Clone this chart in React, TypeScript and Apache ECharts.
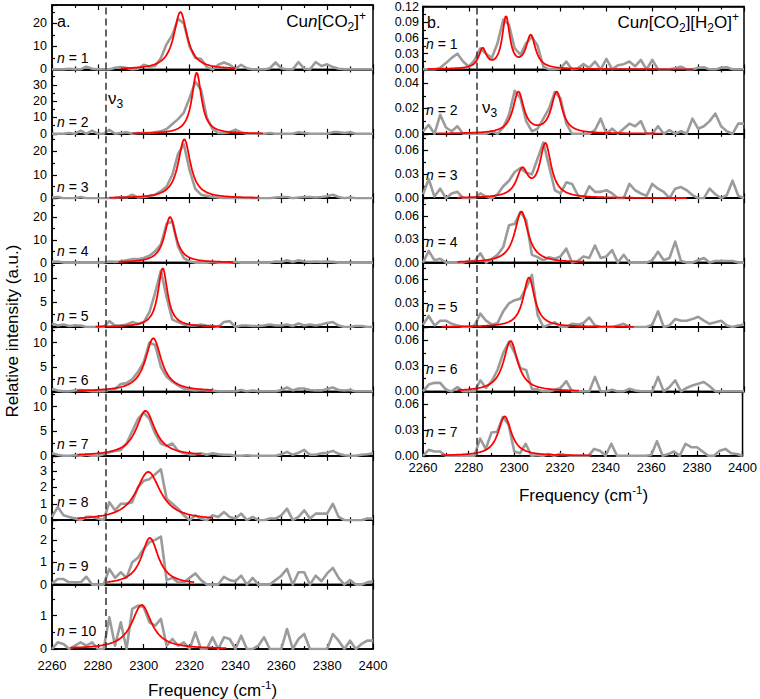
import React, { useEffect, useRef } from "react";
import * as echarts from "echarts";

// Frequency grid of the measured spectra (cm^-1)
const FREQ = [
  2260, 2262.5, 2265, 2267.5, 2270, 2272.5, 2275, 2277.5, 2280, 2282.5,
  2285, 2287.5, 2290, 2292.5, 2295, 2297.5, 2300, 2302.5, 2305, 2307.5,
  2310, 2312.5, 2315, 2317.5, 2320, 2322.5, 2325, 2327.5, 2330, 2332.5,
  2335, 2337.5, 2340, 2342.5, 2345, 2347.5, 2350, 2352.5, 2355, 2357.5,
  2360, 2362.5, 2365, 2367.5, 2370, 2372.5, 2375, 2377.5, 2380, 2382.5,
  2385, 2387.5, 2390, 2392.5, 2395, 2397.5, 2400,
];

// Panel a: Cu_n[CO2]+ measured spectra
const A1 = [0,0,0,0.3,0,0,1.2,0.3,0,0, 0,0.7,1.0,0.6,0,0.3,2.0,1.2,1.5,5, 11,15,22,20,10,5,4.5,1,0,2.0, 3.0,2.0,0.3,2.0,0.5,0,0,0,0.5,3.0, 0.5,0,0,3.2,0.3,0,3.2,1.5,2.2,1.0, 0.3,0,0,0,0,0,0];
const A2 = [0,0,0,0.5,0,2,0,2,0,0, 2.5,0,0.5,1,0,0.5,0.5,0.5,1,1.5, 3,6,9,13,22,32,27,10,3,0.5, 0.5,1,2.5,1,0,0,0,0,0.5,0, 0,0,0,1,0.5,0,0,0,0,1, 1,0.5,1,0,0,0,0];
const A3 = [0.3,0.5,0,0,0,0.5,0,0,0,0, 0,0,0.5,0.3,1.5,0.3,0.5,1,1.5,3, 5,10,19,23,12,4,1.5,1,0.5,0.3, 0,0,0,0,0,0,0,0,0,0.3, 0.5,0.5,0,0.3,0.5,0.5,0.3,0.5,0.8,1.5, 0.5,0,0.3,0,0,0,0];
const A4 = [0.3,0.5,0,0,0,0,0,0,0,0, 0.5,0.3,0.5,1,1.5,1.5,2,3,5,8, 17,18,7,2,0.5,0,0,0,0.3,0, 0,0,0.3,0,0,0,0,0,0,0.5, 0.3,1,0.3,1,0.5,0.3,0.5,0.3,0.5,0.3, 0,0,0,0,0,0,0];
const A5 = [0.7,0.3,0.5,0.2,0.3,0.3,0,0,0,0, 1.2,0.3,0.3,0.5,1.0,0.6,1.0,3,7,11.5, 6,1.5,1.0,0.5,0.3,0.3,0.5,0.3,0.2,0, 1.0,1.2,0,0.3,0.3,0.2,0.2,0.3,0.5,0.3, 0.3,0.5,0.2,0.7,0.3,0.5,0.3,0.5,0.8,1.0, 0.3,0,0,0.2,0.2,0,0];
const A6 = [0.5,0.2,0,0,0.2,0.3,0.2,0,0,0, 0.4,0.5,1.5,1.7,2.5,4,6,10,9.5,5, 3,2,1.2,0.6,0.3,0.2,0.3,0.2,0.2,0, 0,0,0,0.3,0,0.2,0,0,0,0, 0.3,0.8,0.2,0.6,0.6,0.3,0.2,0.2,0.5,0.8, 0.3,0.2,0.3,0,0,0,0];
const A7 = [0.5,0.2,0,0,0.1,0,0.2,0,0,0.3, 0.7,1.0,1.2,2.5,5,7.5,8.8,7.5,4.5,2.5, 2,2.5,1.0,0.5,0.3,0.3,0.5,0.2,0.5,0.3, 0.2,0.2,0,0,0.1,0,0,0,0,0, 0.3,0.8,0.2,0.6,1.2,0.2,0.2,0.5,0.6,1.0, 0.4,0.1,0,0,0.2,0.3,0.5];
const A8 = [0.2,0.8,0.3,0.2,0.1,0,0.2,0.2,0.1,0, 1.1,0.6,1.0,1.0,1.1,2.0,2.4,2.5,2.8,3.1, 1.3,1.0,0.7,0.3,0,0.3,0.1,0,0.3,0.2, 0.5,0.2,0.1,0.4,0,0.2,0,0,0.1,0.1, 0.3,0.7,0,0.2,0.6,0.1,0.4,0.4,0.4,1.0, 0.2,0,0,0,0,0.1,0.1];
const A9 = [0.05,0.25,0.25,0.1,0.1,0.1,0.35,0,0,0, 0.7,0.3,0.55,0.3,1.0,1.2,1.6,1.9,2.0,2.15, 0.2,0.3,0.1,0.1,0.3,0.5,0.2,0,0,0, 0.35,0.2,0.15,0.4,0,0.3,0,0,0,0.2, 0.4,0.7,0,0.55,0.55,0,0.4,0.15,0.5,0.75, 0.3,0,0.2,0,0,0.1,0.15];
const A10 = [0,0.2,0.15,0,0.1,0.2,0.1,0.2,0,0, 0.95,0.1,0.8,0,1.2,1.3,1.25,0.8,0.7,0.9, 0.1,0.3,0.1,0.2,0,0.5,0,0,0.35,0, 0.35,0.3,0,0.4,0,0,0.1,0.35,0,0, 0,0.6,0,0.3,0.45,0,0,0,0,0.45, 0.25,0,0.25,0,0.15,0.25,0.25];

// Panel b: Cu_n[CO2][H2O]+ measured spectra
const B1 = [0,0,0,0.003,0.012,0.022,0.03,0.015,0.005,0.018, 0.04,0.03,0.022,0.05,0.095,0.085,0.04,0.028,0.05,0.062, 0.045,0.005,0,0,0.002,0.015,0,0.002,0.01,0.003, 0.015,0,0.02,0,0.008,0.01,0.015,0.006,0.018,0, 0.018,0,0,0,0.002,0.005,0,0,0.003,0.004, 0,0,0.003,0.004,0,0,0];
const B2 = [0.002,0.007,0,0.015,0.005,0.002,0.006,0,0,0, 0,0,0.002,0,0.005,0.015,0.034,0.028,0.01,0.002, 0.004,0.012,0.02,0.033,0.028,0.008,0,0,0,0, 0.003,0.012,0,0.004,0,0.004,0.008,0.006,0.01,0, 0,0.006,0,0.003,0,0.002,0,0.012,0.004,0.006, 0.01,0.016,0.006,0.002,0,0.008,0.008];
const B3 = [0.005,0.024,0.002,0.012,0,0.006,0.008,0,0,0, 0.006,0.002,0,0.005,0.015,0.022,0.033,0.038,0.032,0.03, 0.05,0.07,0.04,0.01,0.006,0.02,0.018,0.004,0,0.015, 0.008,0.008,0.01,0.006,0,0,0.018,0.01,0.006,0.003, 0.018,0.012,0.008,0,0.012,0.014,0.01,0.004,0,0, 0.012,0.005,0,0.004,0.022,0.003,0];
const B4 = [0,0.015,0.003,0.005,0,0,0,0,0.002,0.002, 0.012,0,0.005,0.01,0.02,0.048,0.05,0.065,0.055,0.01, 0.007,0.003,0.007,0.005,0.008,0.018,0,0.002,0.008,0.006, 0.022,0.006,0.008,0.016,0,0.01,0,0,0,0, 0.003,0.014,0.003,0.006,0.027,0.002,0,0,0.003,0.006, 0,0.002,0.002,0.002,0.002,0,0];
const B5 = [0.003,0.014,0.002,0.008,0.008,0.004,0.002,0,0,0.002, 0.017,0.008,0.003,0.005,0.02,0.03,0.034,0.036,0.05,0.066, 0.015,0,0.003,0.006,0,0,0.004,0.003,0.005,0.012, 0.002,0,0,0,0.002,0.004,0,0,0,0, 0.003,0.02,0,0.002,0.01,0.008,0.008,0.01,0.013,0.008, 0.004,0.006,0.008,0.002,0,0.002,0.003];
const B6 = [0,0.008,0.01,0.01,0.002,0,0.005,0,0,0, 0.013,0.004,0.012,0.025,0.045,0.058,0.045,0.027,0.025,0.003, 0.002,0,0,0.002,0.004,0.012,0,0,0,0, 0.017,0,0,0.002,0,0,0.003,0.001,0,0, 0,0.017,0,0.005,0.013,0,0.004,0.007,0.009,0.011, 0.006,0,0,0,0,0,0];
const B7 = [0,0.007,0.005,0.005,0,0,0,0,0,0, 0.02,0.008,0.027,0.028,0.045,0.036,0.005,0.003,0.014,0, 0.001,0,0.002,0,0.002,0.001,0,0,0,0, 0.008,0.006,0,0.014,0,0,0,0,0,0, 0.001,0.017,0,0.002,0.005,0,0.014,0.01,0.01,0.005, 0,0,0.006,0.008,0.003,0.002,0];

// Lorentzian fit parameters: [centre (cm^-1), FWHM (cm^-1), height]
const FIT_A = [
  [[2316, 7, 25]],
  [[2323.1, 5, 37.6]],
  [[2317.7, 6.5, 25.2]],
  [[2311.5, 6, 20]],
  [[2308.3, 5, 12]],
  [[2304.2, 8.5, 10.9]],
  [[2300.8, 10, 9.15]],
  [[2302, 13, 2.94]],
  [[2302.7, 9, 2.09]],
  [[2299.1, 10.5, 1.32]],
];
const FIT_B = [
  [[2286, 4, 0.0371], [2296.2, 4, 0.0979], [2307, 5, 0.063]],
  [[2301.6, 5.7, 0.0325], [2318.3, 5.7, 0.0325]],
  [[2303.3, 6, 0.0336], [2313.4, 6, 0.067]],
  [[2302.9, 7, 0.066]],
  [[2306.2, 6, 0.063]],
  [[2298.2, 7.5, 0.059]],
  [[2295.8, 7, 0.0458]],
];
// frequency span over which each fit is drawn
const FIT_RANGE_A = [[2290, 2340], [2295, 2352], [2285, 2350], [2289, 2339], [2279, 2334], [2271, 2330], [2271, 2325], [2271, 2330], [2284, 2322], [2268, 2336]];
const FIT_RANGE_B = [[2262, 2378], [2266, 2364], [2275, 2375], [2275, 2330], [2268, 2352], [2275, 2328], [2268, 2334]];

// y-axis scales
const YMAX_A = [28, 39.5, 27.5, 28.2, 13.1, 13.2, 13.1, 3.92, 2.88, 1.93];
const YINT_A = [10, 10, 10, 10, 5, 5, 5, 1, 1, 1];
const YMAX_B = [0.12, 0.0508, 0.081, 0.083, 0.0817, 0.0753, 0.0748];
const YINT_B = [0.03, 0.02, 0.03, 0.03, 0.03, 0.03, 0.03];

const X_TICKS = [2260, 2280, 2300, 2320, 2340, 2360, 2380, 2400];
const NU3 = 2283.5;

const GRAY_A = [A1, A2, A3, A4, A5, A6, A7, A8, A9, A10];
const GRAY_B = [B1, B2, B3, B4, B5, B6, B7];

const FONT = '"Liberation Sans", Arial, Helvetica, sans-serif';

function fitCurve(peaks: number[][], range: number[]) {
  const pts: number[][] = [];
  for (let x = range[0]; x <= range[1] + 1e-9; x += 0.5) {
    let y = 0;
    for (const [c, w, a] of peaks) {
      const t = (x - c) / (w / 2);
      y += a / (1 + t * t);
    }
    pts.push([x, y]);
  }
  return pts;
}

export default function App() {
  const ref = useRef<HTMLDivElement>(null);
  useEffect(() => {
    if (!ref.current) return;
    const chart = echarts.init(ref.current, undefined, { renderer: "svg" });
    const PLOT_W = 321;
    const TOP0 = 5;
    const PH = 64.4;
    const grids: any[] = [];
    const xAxes: any[] = [];
    const yAxes: any[] = [];
    const series: any[] = [];
    const graphic: any[] = [];

    const tickStyle = { color: "#000", width: 1.2 };
    const cols = [
      { left: 52, gray: GRAY_A, fits: FIT_A, ranges: FIT_RANGE_A, ymax: YMAX_A, yint: YINT_A, dec: 0, lblMargin: 10, nOff: [53, 53, 53, 53, 53, 53, 53, 46, 46, 46], nX: 57 },
      { left: 423, gray: GRAY_B, fits: FIT_B, ranges: FIT_RANGE_B, ymax: YMAX_B, yint: YINT_B, dec: 2, lblMargin: 5, nOff: [38.5, 40.5, 41, 43.5, 44, 42.3, 40.3], nX: 426 },
    ];
    let k = 0;
    cols.forEach((col, ci) => {
      const n = col.gray.length;
      for (let r = 0; r < n; r++) {
        const top = TOP0 + r * PH;
        const isLast = r === n - 1;
        grids.push({ left: col.left, top, width: PLOT_W, height: PH, show: true, borderColor: "#000", borderWidth: 1.5, backgroundColor: "transparent" });
        const baseX = {
          type: "value", gridIndex: k, min: X_TICKS[0], max: X_TICKS[X_TICKS.length - 1], interval: 20,
          axisLine: { show: true, lineStyle: { color: "#000", width: 1.5 } },
          axisTick: { show: true, inside: true, length: 5, lineStyle: tickStyle },
          minorTick: { show: true, splitNumber: 2, length: 3, lineStyle: tickStyle },
          splitLine: { show: false },
        };
        xAxes.push({
          ...baseX, position: "bottom",
          axisLabel: { show: isLast, color: "#000", fontSize: 13, fontFamily: FONT, margin: col.lblMargin, formatter: (v: number) => String(v) },
        });
        xAxes.push({ ...baseX, position: "top", axisLabel: { show: false } });
        const interval = col.yint[r];
        const dec = col.dec;
        yAxes.push({
          type: "value", gridIndex: k, min: 0, max: col.ymax[r], interval,
          axisLine: { show: true, lineStyle: { color: "#000", width: 1.5 } },
          axisTick: { show: true, inside: true, length: 5, lineStyle: tickStyle },
          minorTick: { show: true, splitNumber: 2, length: 3, lineStyle: tickStyle },
          splitLine: { show: false },
          axisLabel: {
            color: "#000", fontSize: 12.5, lineHeight: 12, fontFamily: FONT, margin: dec ? 4 : 5,
            formatter: (v: number) => {
              const q = v / interval;
              if (Math.abs(q - Math.round(q)) > 1e-6) return "";
              return v.toFixed(dec);
            },
          },
        });
        series.push({
          type: "line", xAxisIndex: 2 * k, yAxisIndex: k, showSymbol: false, silent: true,
          data: FREQ.map((f, i) => [f, col.gray[r][i]]),
          lineStyle: { color: "#9b9b9b", width: 2.6, join: "round" },
          z: 2,
          markLine: {
            silent: true, symbol: "none", label: { show: false },
            lineStyle: { type: [7, 4], color: "#333", width: 1.5 },
            data: [{ xAxis: NU3 }],
          },
        });
        series.push({
          type: "line", xAxisIndex: 2 * k, yAxisIndex: k, showSymbol: false, silent: true,
          data: fitCurve(col.fits[r], col.ranges[r]),
          lineStyle: { color: "#ff0000", width: 1.8 },
          z: 3,
        });
        graphic.push({
          type: "text", x: col.nX, y: top + col.nOff[r],
          style: {
            text: `{it|n} = ${r + 1}`, fontSize: 14, fontFamily: FONT, fill: "#000",
            align: "left", verticalAlign: "middle",
            rich: { it: { fontStyle: "italic", fontSize: 14, fontFamily: FONT, fill: "#000" } },
          },
        });
        k++;
      }
      graphic.push({
        type: "text", x: col.left + PLOT_W / 2, y: ci === 0 ? 690 : 495,
        style: {
          text: "Frequency (cm{sup|-1})", fontSize: 17, fontFamily: FONT, fill: "#000",
          align: "center", verticalAlign: "middle", lineHeight: 22,
          rich: { sup: { fontSize: 11.5, fontFamily: FONT, fill: "#000", lineHeight: 12, verticalAlign: "top" } },
        },
      });
    });

    const richTitle = {
      it: { fontStyle: "italic", fontSize: 17, fontFamily: FONT, fill: "#000", lineHeight: 23 },
      sub: { fontSize: 12, fontFamily: FONT, fill: "#000", lineHeight: 12, verticalAlign: "bottom" },
      sup: { fontSize: 12, fontFamily: FONT, fill: "#000", lineHeight: 12, verticalAlign: "top" },
    };
    graphic.push(
      { type: "text", x: 57, y: 21, style: { text: "a.", fontSize: 16, fontFamily: FONT, fill: "#000", align: "left", verticalAlign: "middle" } },
      { type: "text", x: 427, y: 22, style: { text: "b.", fontSize: 16, fontFamily: FONT, fill: "#000", align: "left", verticalAlign: "middle" } },
      { type: "text", x: 366, y: 21, style: { text: "Cu{it|n}[CO{sub|2}]{sup|+}", fontSize: 17, fontFamily: FONT, fill: "#000", align: "right", verticalAlign: "middle", lineHeight: 23, rich: richTitle } },
      { type: "text", x: 739, y: 22, style: { text: "Cu{it|n}[CO{sub|2}][H{sub|2}O]{sup|+}", fontSize: 17, fontFamily: FONT, fill: "#000", align: "right", verticalAlign: "middle", lineHeight: 23, rich: richTitle } },
      { type: "text", x: 108, y: 98, style: { text: "ν{sub|3}", fontSize: 17, fontFamily: FONT, fill: "#000", align: "left", verticalAlign: "middle", lineHeight: 23, rich: richTitle } },
      { type: "text", x: 482, y: 107, style: { text: "ν{sub|3}", fontSize: 17, fontFamily: FONT, fill: "#000", align: "left", verticalAlign: "middle", lineHeight: 23, rich: richTitle } },
      { type: "text", x: 12, y: 331, rotation: Math.PI / 2, style: { text: "Relative intensity (a.u.)", fontSize: 17, fontFamily: FONT, fill: "#000", align: "center", verticalAlign: "middle" } },
    );

    chart.setOption({
      animation: false,
      backgroundColor: "#fff",
      grid: grids,
      xAxis: xAxes,
      yAxis: yAxes,
      series,
      graphic,
    });
    return () => chart.dispose();
  }, []);
  return <div ref={ref} style={{ position: "absolute", left: 0, top: 0, width: 760, height: 699 }} />;
}
